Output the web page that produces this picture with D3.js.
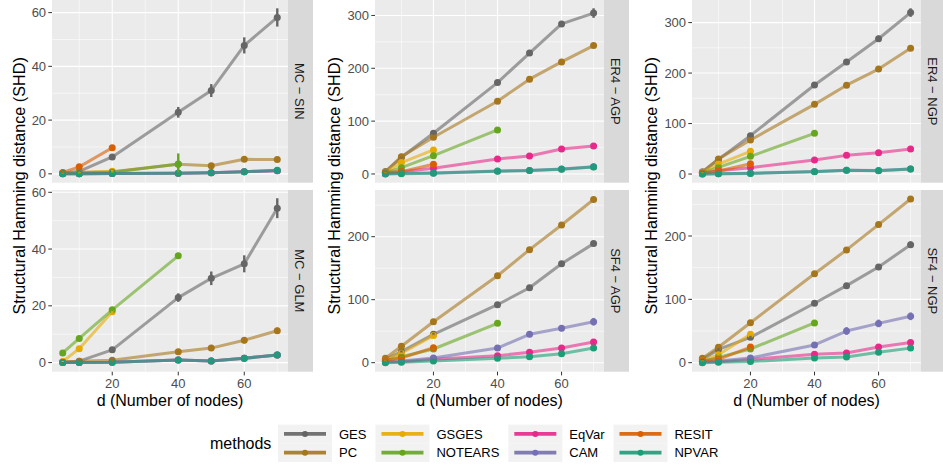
<!DOCTYPE html>
<html>
<head>
<meta charset="utf-8">
<script src="https://cdn.jsdelivr.net/npm/d3@7"></script>
<style>
  body { margin: 0; background: #fff; }
  text { font-family: "Liberation Sans", Arial, sans-serif; }
</style>
</head>
<body>
<script>
const width = 943;
const height = 465;

const nodes = [5, 10, 20, 40, 50, 60, 70];
const methods = ["GES", "PC", "GSGES", "NOTEARS", "EqVar", "CAM", "RESIT", "NPVAR"];
const methodColors = ["#666666", "#A6761D", "#E6AB02", "#66A61E", "#E7298A", "#7570B3", "#D95F02", "#1B9E77"];

// mean SHD per method, index matches nodes (missing = not run)
const mcSinShd = {
  GES:     [0.3, 0.9, 6.3, 22.9, 31.0, 47.8, 58.2],
  PC:      [0.3, 0.5, 0.8, 3.6, 3.0, 5.4, 5.3],
  GSGES:   [0.2, 0.5, 1.0],
  NOTEARS: [0.1, 0.4, 0.6, 3.7],
  EqVar:   [0.0, 0.0, 0.1, 0.2, 0.4, 0.8, 1.2],
  CAM:     [0.0, 0.0, 0.1, 0.2, 0.4, 0.8, 1.2],
  RESIT:   [0.5, 2.6, 9.7],
  NPVAR:   [0.0, 0.0, 0.1, 0.2, 0.4, 0.8, 1.3]
};
const mcSinErr = {
  GES:     [0.2, 0.4, 0.6, 2.0, 2.4, 3.0, 3.4],
  PC:      [0.2, 0.3, 0.4, 0.6, 0.5, 0.6, 0.6],
  GSGES:   [0.1, 0.3, 0.4],
  NOTEARS: [0.1, 0.2, 0.3, 3.9],
  EqVar:   [0, 0, 0.1, 0.2, 0.2, 0.3, 0.3],
  CAM:     [0, 0, 0.1, 0.2, 0.2, 0.3, 0.3],
  RESIT:   [0.3, 0.5, 0.6],
  NPVAR:   [0, 0, 0.1, 0.2, 0.2, 0.3, 0.3]
};

const mcGlmShd = {
  GES:     [0.2, 0.5, 4.5, 22.9, 29.7, 34.8, 54.4],
  PC:      [0.2, 0.5, 0.8, 3.8, 5.1, 7.9, 11.2],
  GSGES:   [0.4, 4.9, 17.9],
  NOTEARS: [3.4, 8.5, 18.6, 37.6],
  EqVar:   [0.0, 0.0, 0.1, 0.9, 0.6, 1.5, 2.7],
  CAM:     [0.0, 0.0, 0.1, 0.9, 0.6, 1.5, 2.7],
  NPVAR:   [0.0, 0.0, 0.1, 0.9, 0.6, 1.5, 2.7]
};
const mcGlmErr = {
  GES:     [0.5, 0.3, 0.6, 1.5, 2.4, 3.0, 3.5],
  PC:      [0.1, 0.2, 0.3, 0.6, 1.0, 1.1, 1.1],
  GSGES:   [0.2, 0.5, 0.6],
  NOTEARS: [0.3, 0.4, 0.5, 0.6],
  EqVar:   [0, 0, 0.1, 0.2, 0.2, 0.3, 0.3],
  CAM:     [0, 0, 0.1, 0.2, 0.2, 0.3, 0.3],
  NPVAR:   [0, 0, 0.1, 0.2, 0.2, 0.3, 0.3]
};

const er4AgpShd = {
  GES:     [4.4, 31.6, 77.0, 173.0, 228.7, 284.0, 304.5],
  PC:      [4.0, 32.8, 69.5, 137.7, 179.4, 212.0, 243.0],
  GSGES:   [3.0, 21.5, 45.5],
  NOTEARS: [2.0, 12.0, 34.7, 83.4],
  EqVar:   [1.0, 4.4, 10.7, 28.4, 34.1, 47.4, 53.0],
  CAM:     [0.0, 1.2, 2.0, 5.5, 6.8, 9.5, 13.5],
  RESIT:   [3.0, 4.5, 18.3],
  NPVAR:   [0.2, 0.6, 1.3, 5.0, 6.4, 8.8, 13.3]
};
const er4AgpErr = {
  GES:     [0.8, 2.0, 3.0, 4.0, 5.0, 5.0, 9.0],
  PC:      [0.8, 1.5, 2.0, 2.5, 3.0, 3.0, 3.5],
  GSGES:   [0.6, 1.2, 1.5],
  NOTEARS: [0.5, 1.0, 1.5, 2.0],
  EqVar:   [0.3, 0.6, 1.0, 1.5, 1.5, 2.0, 2.0],
  CAM:     [0.8, 0.4, 0.5, 0.8, 0.8, 1.0, 1.2],
  RESIT:   [0.5, 0.8, 1.5],
  NPVAR:   [0.2, 0.3, 0.5, 0.8, 0.8, 1.0, 1.2]
};

const sf4AgpShd = {
  GES:     [5.0, 17.5, 45.0, 92.0, 119.0, 157.0, 189.0],
  PC:      [7.0, 26.0, 65.0, 138.0, 179.4, 218.6, 259.0],
  GSGES:   [4.0, 15.0, 43.0],
  NOTEARS: [2.0, 9.5, 21.7, 62.5],
  EqVar:   [1.0, 1.5, 5.5, 11.0, 16.5, 23.3, 32.8],
  CAM:     [1.0, 2.7, 7.5, 23.3, 45.0, 54.6, 65.0],
  RESIT:   [4.0, 7.5, 23.8],
  NPVAR:   [0.0, 0.5, 2.7, 7.0, 9.5, 14.3, 23.3]
};
const sf4AgpErr = {
  GES:     [1.0, 2.0, 2.5, 3.0, 4.0, 4.0, 4.0],
  PC:      [1.0, 1.5, 2.0, 2.5, 2.5, 3.0, 2.0],
  GSGES:   [0.8, 1.2, 1.5],
  NOTEARS: [0.5, 1.0, 1.2, 2.0],
  EqVar:   [0.3, 0.5, 0.8, 1.2, 1.5, 1.8, 2.0],
  CAM:     [0.5, 0.8, 1.5, 3.0, 4.5, 4.5, 6.0],
  RESIT:   [0.8, 1.0, 1.5],
  NPVAR:   [1.2, 0.3, 0.5, 0.8, 1.0, 1.2, 1.5]
};

const er4NgpShd = {
  GES:     [4.0, 29.0, 76.0, 176.4, 222.0, 268.0, 319.8],
  PC:      [4.0, 30.0, 67.4, 138.0, 176.0, 208.0, 249.0],
  GSGES:   [3.0, 19.8, 45.0],
  NOTEARS: [2.0, 13.2, 35.0, 80.7],
  EqVar:   [1.0, 6.6, 12.6, 27.8, 37.0, 42.3, 49.6],
  CAM:     [0.3, 0.8, 1.5, 4.8, 7.5, 7.0, 10.2],
  RESIT:   [2.0, 6.0, 20.4],
  NPVAR:   [0.0, 0.5, 1.3, 4.6, 7.3, 6.6, 10.0]
};
const er4NgpErr = {
  GES:     [0.8, 2.0, 3.0, 4.0, 5.0, 6.0, 8.5],
  PC:      [0.8, 1.5, 2.0, 2.5, 3.0, 3.0, 3.5],
  GSGES:   [0.6, 1.2, 1.5],
  NOTEARS: [0.5, 1.0, 1.5, 2.0],
  EqVar:   [0.3, 0.6, 1.0, 1.5, 1.5, 2.0, 2.0],
  CAM:     [0.3, 0.4, 0.5, 0.8, 0.8, 1.0, 1.2],
  RESIT:   [0.5, 0.8, 1.5],
  NPVAR:   [0.7, 0.3, 0.5, 0.8, 0.8, 1.0, 1.2]
};

const sf4NgpShd = {
  GES:     [5.0, 21.0, 40.0, 93.8, 121.6, 151.0, 186.3],
  PC:      [7.0, 24.3, 63.0, 140.5, 178.0, 218.0, 258.5],
  GSGES:   [3.0, 12.6, 45.0],
  NOTEARS: [2.0, 8.4, 21.6, 62.7],
  EqVar:   [1.0, 1.5, 5.0, 13.2, 15.3, 24.7, 32.0],
  CAM:     [1.0, 2.5, 7.4, 28.0, 50.0, 62.0, 73.2],
  RESIT:   [3.0, 5.3, 24.7],
  NPVAR:   [0.0, 0.5, 1.8, 7.4, 9.0, 16.4, 23.0]
};
const sf4NgpErr = {
  GES:     [1.0, 2.0, 2.5, 3.0, 4.0, 4.0, 5.0],
  PC:      [1.0, 1.5, 2.0, 2.5, 2.5, 3.0, 1.1],
  GSGES:   [0.8, 1.2, 1.5],
  NOTEARS: [0.5, 1.0, 1.2, 2.0],
  EqVar:   [0.3, 0.5, 0.8, 1.2, 1.5, 1.8, 2.0],
  CAM:     [0.5, 0.8, 1.5, 3.0, 6.0, 6.0, 6.0],
  RESIT:   [0.8, 1.0, 1.5],
  NPVAR:   [1.2, 0.3, 0.5, 0.8, 1.0, 1.2, 1.5]
};

const panels = [
  { label: "MC \u2212 SIN",  col: 0, row: 0, mean: mcSinShd,  err: mcSinErr },
  { label: "MC \u2212 GLM",  col: 0, row: 1, mean: mcGlmShd,  err: mcGlmErr },
  { label: "ER4 \u2212 AGP", col: 1, row: 0, mean: er4AgpShd, err: er4AgpErr },
  { label: "SF4 \u2212 AGP", col: 1, row: 1, mean: sf4AgpShd, err: sf4AgpErr },
  { label: "ER4 \u2212 NGP", col: 2, row: 0, mean: er4NgpShd, err: er4NgpErr },
  { label: "SF4 \u2212 NGP", col: 2, row: 1, mean: sf4NgpShd, err: sf4NgpErr }
];

// layout (pixels)
const cols = [[52, 288], [375, 604], [692, 921]];
const rows = [[0, 182.7], [190, 371.7]];
const stripW = 25;
const tickLen = 3.7;

const color = d3.scaleOrdinal().domain(methods).range(methodColors);

const svg = d3.select("body").append("svg")
  .attr("width", width).attr("height", height);

const labelLeft = [Infinity, Infinity, Infinity];

panels.forEach(p => {
  const [x0, x1] = cols[p.col];
  const [y0, y1] = rows[p.row];
  const ext = d3.extent(nodes);
  const xpad = (ext[1] - ext[0]) * 0.05;
  const x = d3.scaleLinear().domain([ext[0] - xpad, ext[1] + xpad]).range([x0, x1]);

  const series = methods.filter(m => p.mean[m]).map(m => ({
    method: m,
    values: p.mean[m].map((v, i) => ({ d: nodes[i], v: v, e: p.err[m][i] || 0 }))
  }));
  const all = series.flatMap(s => s.values);
  const lo = d3.min(all, o => o.v - o.e), hi = d3.max(all, o => o.v + o.e);
  const ypad = (hi - lo) * 0.05;
  const y = d3.scaleLinear().domain([lo - ypad, hi + ypad]).range([y1, y0]);

  const g = svg.append("g");
  g.append("rect").attr("x", x0).attr("y", y0).attr("width", x1 - x0).attr("height", y1 - y0)
    .attr("fill", "#EBEBEB");

  // grid
  const yMajor = y.ticks(3);
  const ys = yMajor[1] - yMajor[0];
  const yMinor = [yMajor[0] - ys / 2, ...yMajor.map(v => v + ys / 2)]
    .filter(v => v > y.domain()[0] && v < y.domain()[1]);
  const xMajor = [20, 40, 60];
  const xMinor = [10, 30, 50, 70];

  g.selectAll(null).data(yMinor).enter().append("line")
    .attr("x1", x0).attr("x2", x1).attr("y1", d => y(d)).attr("y2", d => y(d))
    .attr("stroke", "#fff").attr("stroke-width", 0.55);
  g.selectAll(null).data(xMinor).enter().append("line")
    .attr("y1", y0).attr("y2", y1).attr("x1", d => x(d)).attr("x2", d => x(d))
    .attr("stroke", "#fff").attr("stroke-width", 0.55);
  g.selectAll(null).data(yMajor).enter().append("line")
    .attr("x1", x0).attr("x2", x1).attr("y1", d => y(d)).attr("y2", d => y(d))
    .attr("stroke", "#fff").attr("stroke-width", 1.1);
  g.selectAll(null).data(xMajor).enter().append("line")
    .attr("y1", y0).attr("y2", y1).attr("x1", d => x(d)).attr("x2", d => x(d))
    .attr("stroke", "#fff").attr("stroke-width", 1.1);

  // lines
  const line = d3.line().x(o => x(o.d)).y(o => y(o.v));
  g.selectAll("path.series").data(series).enter().append("path")
    .attr("class", "series")
    .attr("d", s => line(s.values))
    .attr("fill", "none")
    .attr("stroke", s => color(s.method))
    .attr("stroke-width", 3)
    .attr("stroke-linejoin", "round")
    .attr("opacity", 0.6);

  // points then error bars
  series.forEach(s => {
    g.selectAll(null).data(s.values).enter().append("circle")
      .attr("cx", o => x(o.d)).attr("cy", o => y(o.v)).attr("r", 3.5)
      .attr("fill", color(s.method));
  });
  series.forEach(s => {
    g.selectAll(null).data(s.values.filter(o => o.e > 0)).enter().append("line")
      .attr("x1", o => x(o.d)).attr("x2", o => x(o.d))
      .attr("y1", o => y(o.v - o.e)).attr("y2", o => y(o.v + o.e))
      .attr("stroke", color(s.method)).attr("stroke-width", 2.4);
  });

  // y axis
  const ya = g.append("g");
  ya.selectAll(null).data(yMajor).enter().append("line")
    .attr("x1", x0 - tickLen).attr("x2", x0).attr("y1", d => y(d)).attr("y2", d => y(d))
    .attr("stroke", "#333").attr("stroke-width", 1);
  ya.selectAll(null).data(yMajor).enter().append("text")
    .attr("x", x0 - tickLen - 2.2).attr("y", d => y(d))
    .attr("dy", "0.35em")
    .attr("text-anchor", "end")
    .attr("font-size", 13).attr("fill", "#4D4D4D")
    .text(d => d)
    .each(function () {
      labelLeft[p.col] = Math.min(labelLeft[p.col], this.getBBox().x);
    });

  // x axis only under bottom row
  if (p.row === 1) {
    g.selectAll(null).data(xMajor).enter().append("line")
      .attr("x1", d => x(d)).attr("x2", d => x(d)).attr("y1", y1).attr("y2", y1 + tickLen)
      .attr("stroke", "#333").attr("stroke-width", 1);
    g.selectAll(null).data(xMajor).enter().append("text")
      .attr("x", d => x(d)).attr("y", 387.5)
      .attr("text-anchor", "middle")
      .attr("font-size", 13).attr("fill", "#4D4D4D")
      .text(d => d);
    g.append("text")
      .attr("x", (x0 + x1) / 2).attr("y", 406)
      .attr("text-anchor", "middle")
      .attr("font-size", 16).attr("fill", "#000")
      .text("d (Number of nodes)");
  }

  // strip
  g.append("rect").attr("x", x1).attr("y", y0).attr("width", stripW).attr("height", y1 - y0)
    .attr("fill", "#D9D9D9");
  g.append("text")
    .attr("transform", `translate(${x1 + stripW / 2 - 1},${(y0 + y1) / 2}) rotate(90)`)
    .attr("text-anchor", "middle").attr("dy", "0.35em")
    .attr("font-size", 13).attr("fill", "#1A1A1A")
    .text(p.label);
});

// y titles
cols.forEach((c, i) => {
  svg.append("text")
    .attr("transform", `translate(${labelLeft[i] - 7},${(rows[0][0] + rows[1][1]) / 2}) rotate(-90)`)
    .attr("text-anchor", "middle")
    .attr("font-size", 16.2).attr("fill", "#000")
    .text("Structural Hamming distance (SHD)");
});

// legend
const legend = svg.append("g");
legend.append("text").attr("x", 210).attr("y", 443).attr("dy", "0.35em")
  .attr("font-size", 16).text("methods");

const keyW = 54, keyH = 18.7, legTop = 424.6;
let lx = 278;
for (let c = 0; c < 4; c++) {
  const pair = methods.slice(c * 2, c * 2 + 2);
  let maxW = 0;
  pair.forEach((m, r) => {
    const cy = legTop + keyH * r + keyH / 2;
    legend.append("rect").attr("x", lx).attr("y", legTop + keyH * r)
      .attr("width", keyW).attr("height", keyH).attr("fill", "#F2F2F2");
    legend.append("line").attr("x1", lx + 6).attr("x2", lx + keyW - 6)
      .attr("y1", cy).attr("y2", cy)
      .attr("stroke", color(m)).attr("stroke-width", 3.8).attr("opacity", 0.9);
    legend.append("circle").attr("cx", lx + keyW / 2).attr("cy", cy).attr("r", 3)
      .attr("fill", color(m));
    const t = legend.append("text").attr("x", lx + keyW + 7).attr("y", cy).attr("dy", "0.35em")
      .attr("font-size", 13).attr("fill", "#000").text(m);
    maxW = Math.max(maxW, t.node().getComputedTextLength());
  });
  lx += keyW + 7 + maxW + 9;
}
</script>
</body>
</html>
